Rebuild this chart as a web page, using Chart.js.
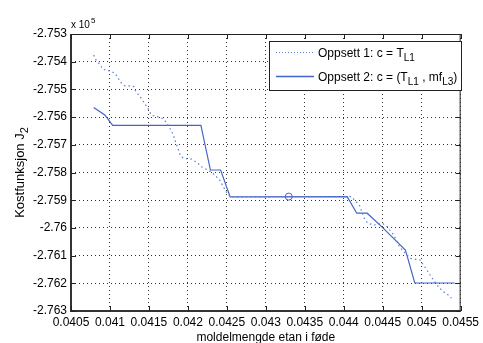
<!DOCTYPE html>
<html>
<head>
<meta charset="utf-8">
<script src="https://cdn.jsdelivr.net/npm/chart.js@4/dist/chart.umd.min.js"></script>
<style>
  html, body { margin: 0; padding: 0; background: #fff; }
  canvas { display: block; }
</style>
</head>
<body>
<canvas id="chart" width="483" height="343"></canvas>
<script>
// Oppsett 1 (prikket linje): x = moldelmengde, y = kostfunksjon (x 10^5)
const x1 = [0.040791, 0.040825, 0.040876, 0.040909, 0.040972, 0.041015, 0.04107, 0.041108, 0.041142, 0.041192,
  0.041247, 0.041306, 0.041332, 0.041386, 0.041424, 0.041487, 0.041529, 0.041576, 0.041635, 0.041677,
  0.041724, 0.041762, 0.041795, 0.04182, 0.041901, 0.041943, 0.042048, 0.042111, 0.042175, 0.042294,
  0.042344, 0.042408, 0.042449, 0.042491, 0.042544, 0.044044, 0.044095, 0.044158, 0.0442, 0.044263,
  0.044306, 0.04439, 0.044496, 0.044559, 0.044643, 0.044715, 0.04477, 0.044854, 0.044981, 0.045023,
  0.045066, 0.045108, 0.04515, 0.045213, 0.045276, 0.04534, 0.045382];
const y1 = [-2.75376, -2.75396, -2.75412, -2.75427, -2.75432, -2.75434, -2.75444, -2.75461, -2.75476, -2.75487,
  -2.75487, -2.7549, -2.75508, -2.75526, -2.75542, -2.75568, -2.75592, -2.75597, -2.756, -2.75606,
  -2.75619, -2.75637, -2.75653, -2.75671, -2.75737, -2.75749, -2.75752, -2.75763, -2.75779, -2.75797,
  -2.75809, -2.75827, -2.75849, -2.75869, -2.75888, -2.75887, -2.75887, -2.75905, -2.75917, -2.75965,
  -2.75983, -2.7599, -2.75983, -2.75996, -2.76026, -2.76068, -2.76086, -2.7611, -2.76116, -2.76134,
  -2.76152, -2.7617, -2.76188, -2.76212, -2.7623, -2.76242, -2.76254];

// Oppsett 2 (heltrukken linje)
const x2 = [0.040791, 0.040934, 0.041035, 0.042167, 0.042289, 0.04242, 0.042542, 0.044044, 0.044167, 0.0443,
  0.044496, 0.044791, 0.044813, 0.044911, 0.045424];
const y2 = [-2.75565, -2.75592, -2.7563, -2.7563, -2.75791, -2.75791, -2.75888, -2.75887, -2.75947, -2.75947,
  -2.75998, -2.7608, -2.76101, -2.76199, -2.76199];

// markert punkt (sirkel)
const markX = [0.043294];
const markY = [-2.75887];

const xTicks = [0.0405, 0.041, 0.0415, 0.042, 0.0425, 0.043, 0.0435, 0.044, 0.0445, 0.045, 0.0455];
const yTicks = [-2.753, -2.754, -2.755, -2.756, -2.757, -2.758, -2.759, -2.76, -2.761, -2.762, -2.763];

const xTitle = 'moldelmengde etan i føde';
const yTitle = [['Kostfunksjon J', 0], ['2', 1]];
const legend1 = [['Oppsett 1: c = T', 0], ['L1', 1]];
const legend2 = [['Oppsett 2: c = (T', 0], ['L1', 1], [' , mf', 0], ['L3', 1], [')', 0]];

const FONT = '"Liberation Sans", Arial, sans-serif';
const col1 = '#5c7fd8';
const col2 = '#4464c8';

const toPts = (xs, ys) => xs.map((x, i) => ({ x: x, y: ys[i] }));

// tegner tekst med senket skrift
function richWidth(ctx, parts, size) {
  let w = 0;
  parts.forEach(p => {
    ctx.font = (p[1] ? size - 2 : size) + 'px ' + FONT;
    w += ctx.measureText(p[0]).width;
  });
  return w;
}
function drawRich(ctx, parts, x, y, size) {
  let cx = x;
  parts.forEach(p => {
    ctx.font = (p[1] ? size - 2 : size) + 'px ' + FONT;
    ctx.fillText(p[0], cx, y + (p[1] ? 4 : 0));
    cx += ctx.measureText(p[0]).width;
  });
}

const boxPlugin = {
  id: 'boxPlugin',
  afterDraw(chart) {
    const ctx = chart.ctx;
    const a = chart.chartArea;
    const xs = chart.scales.x, ys = chart.scales.y;
    ctx.save();
    ctx.strokeStyle = '#222';
    ctx.lineWidth = 1;
    ctx.strokeRect(a.left + 0.5, a.top + 0.5, a.right - a.left - 1, a.bottom - a.top - 1);
    ctx.lineWidth = 2;
    ctx.strokeStyle = '#333';
    ctx.beginPath();
    ctx.moveTo(a.left, a.top); ctx.lineTo(a.left, a.bottom); ctx.lineTo(a.right, a.bottom);
    ctx.stroke();
    // innoverrettede tick-merker
    ctx.lineWidth = 1;
    ctx.strokeStyle = '#222';
    ctx.beginPath();
    xs.ticks.forEach(t => {
      const px = Math.round(xs.getPixelForValue(t.value)) + 0.5;
      ctx.moveTo(px, a.bottom); ctx.lineTo(px, a.bottom - 5);
      ctx.moveTo(px, a.top); ctx.lineTo(px, a.top + 5);
    });
    ys.ticks.forEach(t => {
      const py = Math.round(ys.getPixelForValue(t.value)) + 0.5;
      ctx.moveTo(a.left, py); ctx.lineTo(a.left + 5, py);
      ctx.moveTo(a.right, py); ctx.lineTo(a.right - 5, py);
    });
    ctx.stroke();

    ctx.fillStyle = '#000';
    ctx.textBaseline = 'alphabetic';
    // x 10^5
    ctx.font = '10px ' + FONT;
    ctx.fillText('x 10', a.left, 28);
    const w10 = ctx.measureText('x 10').width;
    ctx.font = '8px ' + FONT;
    ctx.fillText('5', a.left + w10 + 1, 23);

    // x-aksetittel
    ctx.font = '12px ' + FONT;
    ctx.textAlign = 'center';
    ctx.fillText(xTitle, (a.left + a.right) / 2, 341);
    ctx.textAlign = 'left';

    // y-aksetittel
    ctx.save();
    ctx.translate(24, (a.top + a.bottom) / 2);
    ctx.rotate(-Math.PI / 2);
    const wy = richWidth(ctx, yTitle, 13);
    drawRich(ctx, yTitle, -wy / 2, 0, 13);
    ctx.restore();

    // forklaring
    const lx = 269, ly = 41, lw = 192, lh = 49;
    ctx.fillStyle = '#fff';
    ctx.fillRect(lx, ly, lw, lh);
    ctx.strokeStyle = '#222';
    ctx.strokeRect(lx + 0.5, ly + 0.5, lw, lh);
    ctx.lineWidth = 1;
    ctx.strokeStyle = col1;
    ctx.setLineDash([1, 2]);
    ctx.beginPath(); ctx.moveTo(276, 52.5); ctx.lineTo(314, 52.5); ctx.stroke();
    ctx.setLineDash([]);
    ctx.strokeStyle = col2;
    ctx.lineWidth = 1.3;
    ctx.beginPath(); ctx.moveTo(276, 76.5); ctx.lineTo(314, 76.5); ctx.stroke();
    ctx.fillStyle = '#000';
    drawRich(ctx, legend1, 318, 57, 12);
    drawRich(ctx, legend2, 318, 81, 12);
    ctx.restore();
  }
};

new Chart(document.getElementById('chart'), {
  type: 'line',
  data: {
    datasets: [
      {
        label: 'Oppsett 1',
        data: toPts(x1, y1),
        borderColor: col1,
        borderWidth: 1.2,
        borderDash: [1.5, 3],
        pointRadius: 0,
        fill: false,
        tension: 0
      },
      {
        label: 'Oppsett 2',
        data: toPts(x2, y2),
        borderColor: col2,
        borderWidth: 1.2,
        pointRadius: 0,
        fill: false,
        tension: 0
      },
      {
        label: 'punkt',
        data: toPts(markX, markY),
        showLine: false,
        pointRadius: 3.5,
        pointBorderColor: col2,
        pointBackgroundColor: 'rgba(0,0,0,0)',
        pointBorderWidth: 1
      }
    ]
  },
  options: {
    responsive: false,
    animation: false,
    devicePixelRatio: 1,
    layout: { padding: { left: 0, top: 34, right: 17, bottom: 0 } },
    plugins: { legend: { display: false }, tooltip: { enabled: false } },
    scales: {
      x: {
        type: 'linear',
        min: xTicks[0],
        max: xTicks[xTicks.length - 1],
        afterFit: s => { s.height = 32; },
        afterBuildTicks: s => { s.ticks = xTicks.map(v => ({ value: v })); },
        border: { display: false, dash: [1, 3] },
        grid: { color: '#333', lineWidth: 1, drawTicks: false },
        ticks: {
          padding: 4,
          color: '#000',
          font: { family: FONT, size: 12 },
          maxRotation: 0,
          autoSkip: false,
          callback: v => String(parseFloat(v.toFixed(4)))
        }
      },
      y: {
        type: 'linear',
        min: yTicks[yTicks.length - 1],
        max: yTicks[0],
        afterFit: s => { s.width = 71; },
        afterBuildTicks: s => { s.ticks = yTicks.slice().reverse().map(v => ({ value: v })); },
        border: { display: false, dash: [1, 3] },
        grid: { color: '#333', lineWidth: 1, drawTicks: false },
        ticks: {
          padding: 4,
          color: '#000',
          font: { family: FONT, size: 12 },
          autoSkip: false,
          callback: v => String(parseFloat(v.toFixed(3)))
        }
      }
    }
  },
  plugins: [boxPlugin]
});
</script>
</body>
</html>
